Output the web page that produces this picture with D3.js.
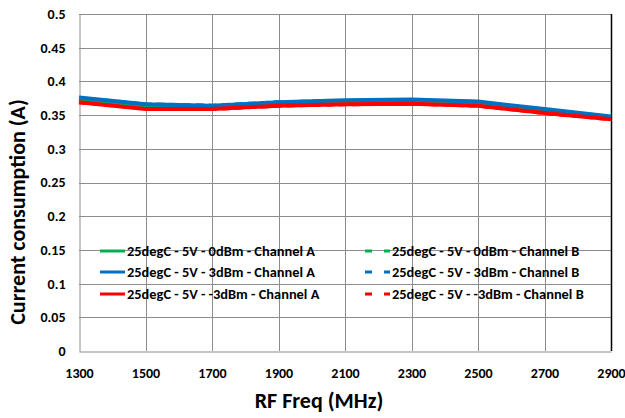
<!DOCTYPE html>
<html>
<head>
<meta charset="utf-8">
<script src="https://cdn.jsdelivr.net/npm/d3@7"></script>
<style>
  body { margin: 0; background: #fff; }
  text { font-family: Carlito, "Liberation Sans", Arial, sans-serif; font-weight: bold; fill: #000; }
</style>
</head>
<body>
<svg id="chart" width="625" height="418"></svg>
<script>
// frequencies (MHz)
const freqs = [1300, 1500, 1700, 1900, 2100, 2300, 2500, 2700, 2900];

// current consumption (A)
const a0dBm = [0.373, 0.364, 0.362, 0.367, 0.370, 0.371, 0.368, 0.357, 0.347];
const a3dBm = [0.376, 0.366, 0.364, 0.369, 0.372, 0.373, 0.370, 0.359, 0.348];
const aM3dBm = [0.369, 0.359, 0.359, 0.364, 0.366, 0.367, 0.364, 0.353, 0.344];
const b0dBm = [0.372, 0.364, 0.362, 0.367, 0.369, 0.370, 0.367, 0.356, 0.346];
const b3dBm = [0.375, 0.366, 0.364, 0.369, 0.371, 0.372, 0.369, 0.358, 0.347];
const bM3dBm = [0.369, 0.360, 0.359, 0.364, 0.366, 0.367, 0.364, 0.353, 0.344];

const yTicks = [0, 0.05, 0.1, 0.15, 0.2, 0.25, 0.3, 0.35, 0.4, 0.45, 0.5];

const series = [
  { name: '25degC - 5V - 0dBm - Channel A', values: a0dBm, color: '#00b050', dashed: false },
  { name: '25degC - 5V - 3dBm - Channel A', values: a3dBm, color: '#0070c0', dashed: false },
  { name: '25degC - 5V - -3dBm - Channel A', values: aM3dBm, color: '#ff0000', dashed: false },
  { name: '25degC - 5V - 0dBm - Channel B', values: b0dBm, color: '#00b050', dashed: true },
  { name: '25degC - 5V - 3dBm - Channel B', values: b3dBm, color: '#0070c0', dashed: true },
  { name: '25degC - 5V - -3dBm - Channel B', values: bM3dBm, color: '#ff0000', dashed: true },
];

const margin = { left: 79, right: 14, top: 14, bottom: 67 };
const width = 625;
const height = 418;

const svg = d3.select('#chart');

const x = d3.scaleLinear()
  .domain([1300, 2900])
  .range([margin.left, width - margin.right]);

const y = d3.scaleLinear()
  .domain([0, 0.5])
  .range([height - margin.bottom, margin.top]);

// gridlines
svg.append('g')
  .selectAll('line.h')
  .data(yTicks.slice(1))
  .enter().append('line')
  .attr('x1', x.range()[0])
  .attr('x2', x.range()[1])
  .attr('y1', (d) => Math.round(y(d)) + 0.5)
  .attr('y2', (d) => Math.round(y(d)) + 0.5)
  .attr('stroke', '#8c8c8c')
  .attr('stroke-width', 1);

svg.append('g')
  .selectAll('line.v')
  .data(freqs.slice(1))
  .enter().append('line')
  .attr('x1', (d) => Math.round(x(d)) + 0.5)
  .attr('x2', (d) => Math.round(x(d)) + 0.5)
  .attr('y1', y.range()[1])
  .attr('y2', y.range()[0])
  .attr('stroke', '#8c8c8c')
  .attr('stroke-width', 1);

// axes
const xAxis = svg.append('g')
  .attr('transform', `translate(0,${Math.round(y(0)) + 0.5})`)
  .call(d3.axisBottom(x).tickValues(freqs).tickSize(0).tickPadding(17).tickFormat(d3.format('d')));
xAxis.select('.domain').attr('stroke', '#8c8c8c');
xAxis.selectAll('text').style('font-size', '14px');

const yAxis = svg.append('g')
  .attr('transform', `translate(${Math.round(x(1300)) + 0.5},0)`)
  .call(d3.axisLeft(y).tickValues(yTicks).tickSize(0).tickPadding(14).tickFormat((d) => d3.format('')(+d.toFixed(2))));
yAxis.select('.domain').attr('stroke', '#8c8c8c');
yAxis.selectAll('text').style('font-size', '14px');

// black right border
svg.append('line')
  .attr('x1', Math.round(x(2900)) + 0.5)
  .attr('x2', Math.round(x(2900)) + 0.5)
  .attr('y1', y.range()[1])
  .attr('y2', y.range()[0])
  .attr('stroke', '#000')
  .attr('stroke-width', 1.5);

// lines
const line = d3.line()
  .x((d, i) => x(freqs[i]))
  .y((d) => y(d));

const drawOrder = [3, 4, 5, 0, 1, 2];
svg.append('g')
  .selectAll('path')
  .data(drawOrder.map((i) => series[i]))
  .enter().append('path')
  .attr('d', (d) => line(d.values))
  .attr('fill', 'none')
  .attr('stroke', (d) => d.color)
  .attr('stroke-width', 4)
  .attr('stroke-dasharray', (d) => (d.dashed ? '8,5' : null));

// legend
const legendCols = [100, 365];
const legendRows = [251, 272, 294];
const legend = svg.append('g')
  .selectAll('g')
  .data(series)
  .enter().append('g')
  .attr('transform', (d, i) => `translate(${legendCols[Math.floor(i / 3)]},${legendRows[i % 3]})`);

legend.append('line')
  .attr('x1', 0)
  .attr('x2', 25)
  .attr('y1', 0)
  .attr('y2', 0)
  .attr('stroke', (d) => d.color)
  .attr('stroke-width', 3)
  .attr('stroke-dasharray', (d) => (d.dashed ? '7,12' : null));

legend.append('text')
  .attr('x', 27)
  .attr('y', 0)
  .attr('dy', '0.35em')
  .style('font-size', '14.4px')
  .text((d) => d.name);

// axis titles
svg.append('text')
  .attr('x', 319)
  .attr('y', 408)
  .attr('text-anchor', 'middle')
  .style('font-size', '22px')
  .text('RF Freq (MHz)');

svg.append('text')
  .attr('transform', 'translate(25,212) rotate(-90)')
  .attr('text-anchor', 'middle')
  .style('font-size', '22px')
  .text('Current consumption (A)');
</script>
</body>
</html>
